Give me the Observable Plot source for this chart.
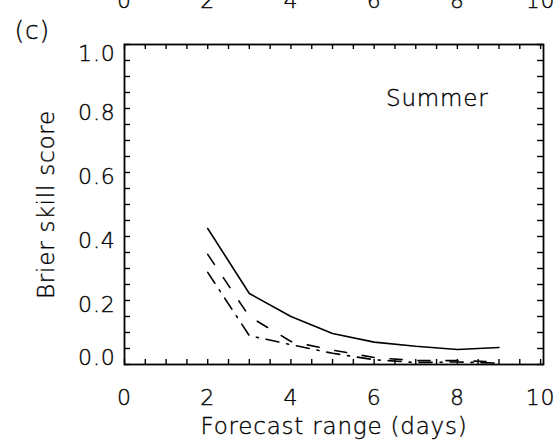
<!DOCTYPE html>
<html><head><meta charset="utf-8">
<script src="https://cdn.jsdelivr.net/npm/d3@7"></script>
<script src="https://cdn.jsdelivr.net/npm/@observablehq/plot@0.6"></script>
<style>
html,body{margin:0;padding:0;background:#fff;}
#chart svg{display:block;}
#chart svg text{stroke:#000;stroke-width:0.35px;}
</style></head><body><div id="chart"></div>
<script>
// Forecast range (days)
const days = [2, 3, 4, 5, 6, 7, 8, 9];
// Brier skill score, three curves
const solidBSS   = [0.425, 0.222, 0.150, 0.097, 0.070, 0.057, 0.047, 0.053];
const dashedBSS  = [0.344, 0.150, 0.072, 0.045, 0.022, 0.012, 0.012, 0.008];
const dashDotBSS = [0.288, 0.090, 0.062, 0.035, 0.015, 0.006, 0.008, 0.004];

const xTickLabels = [0, 2, 4, 6, 8, 10];
const yTickLabelsMid = [0.2, 0.4, 0.6, 0.8];
const xMinorTicks = [0,0.5,1,1.5,2,2.5,3,3.5,4,4.5,5,5.5,6,6.5,7,7.5,8,8.5,9,9.5,10];
const yMinorTicks = [0,0.05,0.1,0.15,0.2,0.25,0.3,0.35,0.4,0.45,0.5,0.55,0.6,0.65,0.7,0.75,0.8,0.85,0.9,0.95,1];

const panelLabel = "(c)";
const seasonLabel = "Summer";
const xTitle = "Forecast range (days)";
const yTitle = "Brier skill score";

const series = [
  {name: "solid", values: solidBSS, dash: null},
  {name: "dashed", values: dashedBSS, dash: "12,16"},
  {name: "dashdot", values: dashDotBSS, dash: "13,8,2,8"}
];

const W = 556, H = 441;
const mL = 124, mR = 13, mT = 44, mB = 77;
const fw = W - mL - mR, fh = H - mT - mB;
const font = 22;

const marks = [];
for (const s of series) {
  const rows = days.map((d, i) => ({x: d, y: s.values[i]}));
  marks.push(Plot.line(rows, {x: "x", y: "y", stroke: "#000", strokeWidth: 1.6, strokeDasharray: s.dash}));
}
// inward ticks
marks.push(Plot.tickX(xMinorTicks, {x: d => d, insetTop: fh - 5, stroke: "#000", strokeWidth: 1.4}));
marks.push(Plot.tickX(xMinorTicks, {x: d => d, insetBottom: fh - 5, stroke: "#000", strokeWidth: 1.4}));
marks.push(Plot.tickY(yMinorTicks, {y: d => d, insetRight: fw - 6, stroke: "#000", strokeWidth: 1.4}));
marks.push(Plot.tickY(yMinorTicks, {y: d => d, insetLeft: fw - 6, stroke: "#000", strokeWidth: 1.4}));
marks.push(Plot.frame({stroke: "#000", strokeWidth: 1.8}));
// axes labels
marks.push(Plot.axisX({anchor: "bottom", ticks: xTickLabels, tickSize: 0, tickPadding: 25, fontSize: font, label: null, tickFormat: d3.format("d")}));
marks.push(Plot.axisX({anchor: "top", ticks: xTickLabels, tickSize: 0, tickPadding: 37, fontSize: font, label: null, tickFormat: d3.format("d")}));
marks.push(Plot.axisY({anchor: "left", ticks: [1], tickSize: 0, tickPadding: 9, fontSize: font, label: null, dy: 9, tickFormat: d3.format(".1f")}));
marks.push(Plot.axisY({anchor: "left", ticks: yTickLabelsMid, tickSize: 0, tickPadding: 9, fontSize: font, label: null, dy: 4, tickFormat: d3.format(".1f")}));
marks.push(Plot.axisY({anchor: "left", ticks: [0], tickSize: 0, tickPadding: 9, fontSize: font, label: null, dy: -7, tickFormat: d3.format(".1f")}));
// titles
marks.push(Plot.text([xTitle], {frameAnchor: "bottom", dy: 62, lineAnchor: "middle", fontSize: font + 1, fill: "#000"}));
marks.push(Plot.text([yTitle], {frameAnchor: "left", dx: -78, rotate: -90, textAnchor: "middle", lineAnchor: "middle", fontSize: font + 1, fill: "#000"}));
marks.push(Plot.text([panelLabel], {frameAnchor: "top-left", dx: -110, dy: -14, textAnchor: "start", lineAnchor: "middle", fontSize: font + 3, fill: "#000"}));
marks.push(Plot.text([seasonLabel], {frameAnchor: "top-right", dx: -55, dy: 54, textAnchor: "end", lineAnchor: "middle", fontSize: font + 1, fill: "#000"}));

const chart = Plot.plot({
  width: W, height: H,
  marginLeft: mL, marginRight: mR, marginTop: mT, marginBottom: mB,
  x: {domain: [0, 10.07], axis: null},
  y: {domain: [0, 1], axis: null},
  style: {fontFamily: "'DejaVu Sans', sans-serif", fontSize: font + "px", fontWeight: 200, letterSpacing: "0.8px", color: "#000", background: "#fff"},
  marks
});
document.getElementById("chart").appendChild(chart);
</script>
</body></html>
